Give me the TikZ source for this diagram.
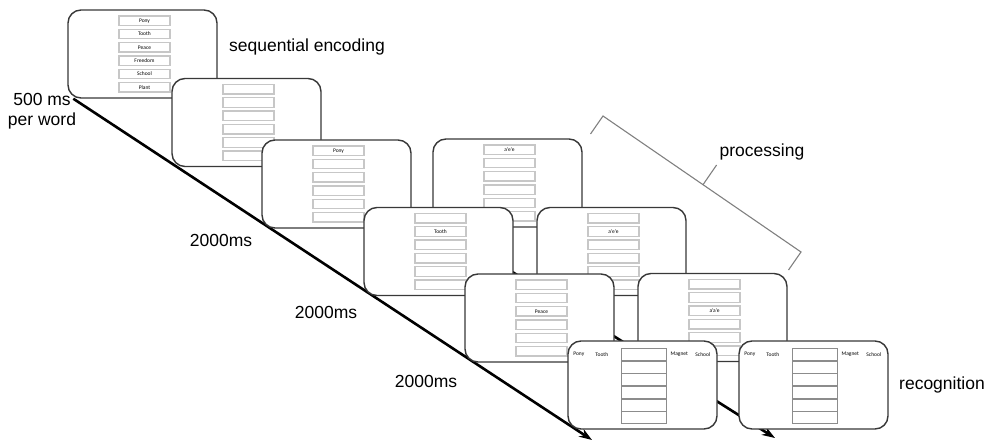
\documentclass[tikz,border=0pt]{standalone}
\usepackage{fontspec}
\setmainfont{Liberation Sans}
\newfontfamily\slotfont{Carlito}
\usetikzlibrary{arrows.meta,backgrounds}

\begin{document}
\begin{tikzpicture}[
		x=1pt, y=-1pt,
		% screens and their answer fields
		screen/.style={draw=black!78, line width=1.4pt, fill=white, rounded corners=13pt,
			minimum width=149pt, minimum height=88pt, inner sep=0pt},
		slot/.style={draw=black!22, line width=1.3pt, minimum width=51pt, minimum height=9.5pt, inner sep=0pt},
		recslot/.style={draw=black!45, line width=1pt, minimum width=45pt, minimum height=12pt, inner sep=0pt},
		word/.style={font=\slotfont\fontsize{5.5}{6}\selectfont, inner sep=0pt},
		txt/.style={font=\fontsize{17.5}{20}\selectfont, inner sep=0pt},
		timeline/.style={line width=2.6pt, -{Stealth[length=13pt, width=9pt]}},
		bracket/.style={draw=black!50, line width=1.1pt}
	]

	\useasboundingbox (0,0) rectangle (989,446);

	% --- 1. Screens of the encoding and processing phase ---
	% each screen is drawn with its six fields before the next one covers it
	\foreach \s/\cx/\cy in {s1/142.5/54, s2/246.5/122.5, s3/336.5/184, s4/507.5/183,
		s5/438.5/251.5, s6/611.5/251.5, s7/539.5/318, s8/712.5/317.5} {
		\node[screen] (\s) at (\cx,\cy) {};
		\foreach \k in {0,...,5}
			\node[slot] (\s-\k) at ([xshift=2pt, yshift={-(11.5+13.3*\k)*1pt}]\s.north) {};
	}

	% words shown in the fields
	\foreach \w [count=\k from 0] in {Pony,Tooth,Peace,Freedom,School,Plant}
		\node[word] (w1-\k) at (s1-\k) {\w};
	\node[word] (w3) at (s3-0) {Pony};
	\node[word] (w5) at (s5-1) {Tooth};
	\node[word] (w7) at (s7-2) {Peace};
	\node[word] (w4) at (s4-0) {a’e’e};
	\node[word] (w6) at (s6-1) {a’e’e};
	\node[word] (w8) at (s8-2) {a’a’e};

	% --- 2. Recognition screens ---
	\foreach \s/\cx in {s9/642.5, s10/813.5} {
		\node[screen] (\s) at (\cx,385) {};
		\foreach \k in {0,...,5}
			\node[recslot] (\s-\k) at ([xshift=1pt, yshift={-(14.5+12.6*\k)*1pt}]\s.north) {};
		\node[word] (\s-pony) at ([xshift=11.5pt, yshift=-14pt]\s.north west) {Pony};
		\node[word] (\s-tooth) at ([xshift=34.5pt, yshift=-14pt]\s.north west) {Tooth};
		\node[word] (\s-magnet) at ([xshift=112pt, yshift=-14pt]\s.north west) {Magnet};
		\node[word] (\s-school) at ([xshift=135.5pt, yshift=-14pt]\s.north west) {School};
	}

	% --- 3. Time axes (behind the screens) ---
	\coordinate (t1) at (592,440);
	\coordinate (t2) at (775,438);
	\begin{pgfonlayer}{background}
		\draw[timeline] ([xshift=6pt]s1.south west) -- (t1);
		\draw[timeline] ([xshift=10pt]s4.south west) -- (t2);
	\end{pgfonlayer}

	% --- 4. Labels ---
	\node[txt] (seq) at (307,47) {sequential encoding};
	\node[txt, align=center] (rate) at (42,111) {500 ms\\per word};
	\node[txt] (d1) at (221,240) {2000ms};
	\node[txt] (d2) at (326,312) {2000ms};
	\node[txt] (d3) at (426,381) {2000ms};
	\node[txt] (rec) at (942,385) {recognition};
	\node[txt] (proc) at (762,152) {processing};

	% --- 5. Bracket over the processing screens ---
	\coordinate (b1) at (590.5,134);
	\coordinate (b2) at (603,116);
	\coordinate (b3) at (801,252);
	\coordinate (b4) at (788.5,270);
	\coordinate (bm) at (703,184.7);
	\coordinate (bt) at (716.6,165);
	\draw[bracket] (b1) -- (b2) -- (b3) -- (b4);
	\draw[bracket] (bm) -- (bt);

\end{tikzpicture}
\end{document}
